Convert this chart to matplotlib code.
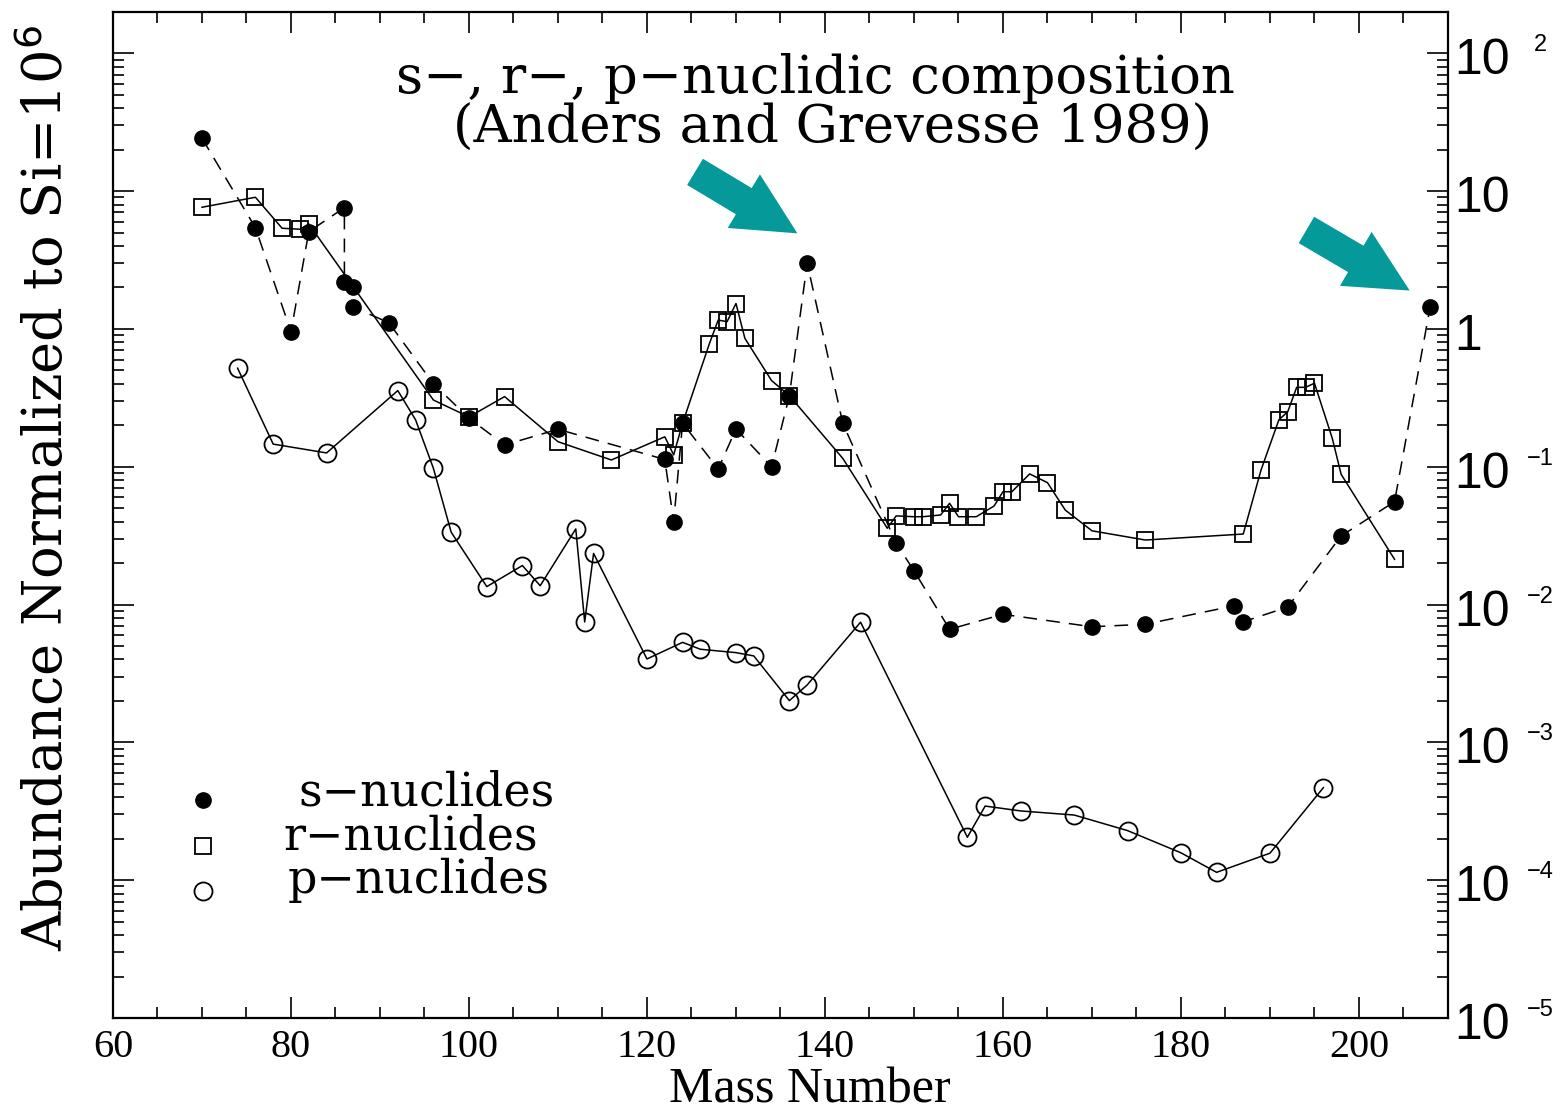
import matplotlib
matplotlib.use("Agg")
import matplotlib.pyplot as plt
import matplotlib.transforms as mtransforms
from matplotlib.patches import FancyArrowPatch, ArrowStyle
from matplotlib.ticker import LogLocator, MultipleLocator, NullFormatter

# s-nuclides (filled circles, dashed)
s_mass = [70, 76, 80, 82, 86, 86, 87, 87, 91, 96, 100, 104, 110, 122, 123, 124,
          128, 130, 134, 136, 138, 142, 148, 150, 154, 160, 170, 176, 186, 187,
          192, 198, 204, 208]
s_abund = [24.2, 5.43, 0.955, 5.08, 7.59, 2.20, 2.03, 1.44, 1.11, 0.40, 0.225,
           0.144, 0.187, 0.113, 0.040, 0.207, 0.0964, 0.188, 0.100, 0.328, 3.0,
           0.207, 0.0279, 0.0176, 0.00662, 0.0085, 0.0069, 0.0072, 0.0098,
           0.0075, 0.0096, 0.0315, 0.0558, 1.45]

# r-nuclides (open squares, solid)
r_mass = [70, 76, 79, 81, 82, 96, 100, 104, 110, 116, 122, 123, 124, 127, 128,
          129, 130, 131, 134, 136, 142, 147, 148, 150, 151, 153, 154, 155, 157,
          159, 160, 161, 163, 165, 167, 170, 176, 187, 189, 191, 192, 193, 194,
          195, 197, 198, 204]
r_abund = [7.64, 9.03, 5.38, 5.29, 5.78, 0.305, 0.23, 0.323, 0.152, 0.112, 0.165,
           0.122, 0.207, 0.778, 1.16, 1.13, 1.53, 0.855, 0.422, 0.328, 0.115,
           0.0358, 0.044, 0.0434, 0.0434, 0.0447, 0.0543, 0.0434, 0.0434, 0.0519,
           0.0659, 0.0659, 0.0887, 0.0767, 0.0485, 0.0343, 0.0294, 0.0325,
           0.0948, 0.219, 0.251, 0.377, 0.377, 0.404, 0.161, 0.0881, 0.0213]

# p-nuclides (open circles, solid)
p_mass = [74, 78, 84, 92, 94, 96, 98, 102, 106, 108, 112, 113, 114, 120, 124,
          126, 130, 132, 136, 138, 144, 156, 158, 162, 168, 174, 180, 184, 190, 196]
p_abund = [0.519, 0.146, 0.126, 0.357, 0.219, 0.0975, 0.0335, 0.0135, 0.0192,
           0.0137, 0.0354, 0.00748, 0.0235, 0.00403, 0.00532, 0.00474, 0.00448,
           0.00424, 0.00201, 0.00261, 0.00745, 0.000205, 0.000345, 0.000318,
           0.000297, 0.000229, 0.000158, 0.000114, 0.000157, 0.000469]

right_exponents = [2, 1, 0, -1, -2, -3, -4, -5]
legend_labels = ["s\u2212nuclides", "r\u2212nuclides", "p\u2212nuclides"]

# arrows: (tail, tip) in data coords
arrows = [((125.4, 13.8), (136.9, 4.94)), ((194.1, 5.23), (205.7, 1.90))]
TEAL = "#05999a"

fig = plt.figure(figsize=(15.64, 11.14), dpi=100)
ax = fig.add_axes([0.07225, 0.08618, 0.85355, 0.90305])

dash = (0, (9, 6))
ax.plot(s_mass, s_abund, linestyle=dash, color="black", lw=1.1,
        marker="o", ms=11, mfc="black", mec="black")
ax.plot(r_mass, r_abund, linestyle="-", color="black", lw=1.1,
        marker="s", ms=12, mfc="none", mec="black", mew=1.3)
ax.plot(p_mass, p_abund, linestyle="-", color="black", lw=1.1,
        marker="o", ms=13, mfc="none", mec="black", mew=1.3)

ax.set_yscale("log")
ax.set_xlim(60, 210)
ax.set_ylim(1e-5, 10 ** 2.30)

ax.xaxis.set_major_locator(MultipleLocator(20))
ax.xaxis.set_minor_locator(MultipleLocator(5))
ax.yaxis.set_major_locator(LogLocator(base=10, numticks=20))
ax.yaxis.set_minor_locator(LogLocator(base=10, subs=range(2, 10), numticks=20))
ax.yaxis.set_minor_formatter(NullFormatter())

ax.tick_params(axis="both", which="both", direction="in",
               top=True, right=True, width=1.2)
ax.tick_params(axis="both", which="major", length=15)
ax.tick_params(axis="both", which="minor", length=8)
ax.tick_params(axis="y", labelleft=False)
ax.tick_params(axis="x", pad=8)
for lab in ax.get_xticklabels():
    lab.set_fontfamily("Liberation Serif")
    lab.set_fontsize(29)
for sp in ax.spines.values():
    sp.set_linewidth(1.6)

# right-hand labels
lab_tr = mtransforms.offset_copy(ax.get_yaxis_transform(), fig=fig, x=0, y=-8, units="dots")
exp_tr = mtransforms.offset_copy(ax.get_yaxis_transform(), fig=fig, x=0, y=8, units="dots")
for e in right_exponents:
    base = "1" if e == 0 else "10"
    ax.text(1.005, 10.0 ** e, base, transform=lab_tr, ha="left", va="center",
            fontsize=36, family="Liberation Sans", clip_on=False)
    if e not in (0, 1):
        ax.text(1.069, 10.0 ** e, "\u2212" + str(-e) if e < 0 else str(e),
                transform=exp_tr, ha="center", va="center",
                fontsize=17, family="Liberation Sans", clip_on=False)

# title
ax.text(0.526, 0.9195, "s\u2212, r\u2212, p\u2212nuclidic composition",
        transform=ax.transAxes, ha="center", va="baseline",
        fontsize=38, family="DejaVu Serif")
ax.text(0.5386, 0.8698, "(Anders and Grevesse 1989)",
        transform=ax.transAxes, ha="center", va="baseline",
        fontsize=38, family="DejaVu Serif")

# legend drawn by hand
leg_marker = [dict(marker="o", ms=11, mfc="black", mec="black"),
              dict(marker="s", ms=12, mfc="none", mec="black", mew=1.3),
              dict(marker="o", ms=13, mfc="none", mec="black", mew=1.3)]
leg_my = [0.2167, 0.171, 0.126]
leg_tx = [0.1386, 0.1273, 0.1311]
leg_ty = [0.2117, 0.1670, 0.1243]
for kw, my, tx, ty, lab in zip(leg_marker, leg_my, leg_tx, leg_ty, legend_labels):
    ax.plot([0.0674], [my], transform=ax.transAxes, linestyle="none", **kw)
    ax.text(tx, ty, lab, transform=ax.transAxes, ha="left", va="baseline",
            fontsize=33, family="DejaVu Serif")

for tail, tip in arrows:
    arr = FancyArrowPatch(tail, tip, transform=ax.transData,
                          arrowstyle=ArrowStyle.Simple(head_length=45, head_width=45, tail_width=22),
                          mutation_scale=1, color=TEAL, shrinkA=0, shrinkB=0, lw=0)
    ax.add_patch(arr)

fig.text(0.030, 0.562, "Abundance Normalized to Si=10$^6$", rotation=90,
         ha="center", va="center", fontsize=39, family="DejaVu Serif")
fig.text(0.518, 0.0099, "Mass Number", ha="center", va="baseline",
         fontsize=36, family="Liberation Serif")

fig.savefig("out.png", dpi=100, facecolor="white")
